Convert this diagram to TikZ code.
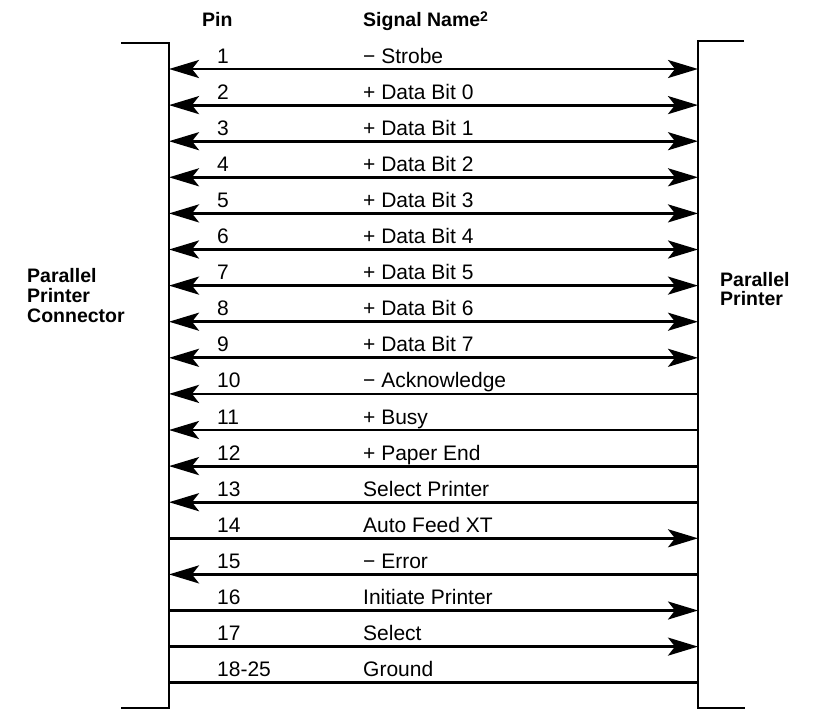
\documentclass[tikz,border=0pt]{standalone}
\usepackage{fontspec}
\setmainfont{Liberation Sans}
\usetikzlibrary{arrows.meta}
\tikzset{
  sig/.style={line width=2.8pt},
  brk/.style={line width=1.8pt},
  bigtip/.tip={Stealth[length=30pt,width=18pt,inset=7pt]},
  pintext/.style={anchor=base west,inner sep=0pt,font=\fontsize{21}{21}\selectfont},
  head/.style={anchor=base west,inner sep=0pt,font=\bfseries\fontsize{19.5}{19.5}\selectfont},
}
\begin{document}
\begin{tikzpicture}[x=1pt,y=-1pt]
\useasboundingbox (0,0) rectangle (822,710);
% brackets
\coordinate (LT) at (121,43);
\coordinate (LTc) at (169,43);
\coordinate (LBc) at (169,708);
\coordinate (LB) at (121,708);
\coordinate (RT) at (744,41);
\coordinate (RTc) at (698,41);
\coordinate (RBc) at (698,708);
\coordinate (RB) at (745,708);
\draw[brk] (LT) -- (LTc) -- (LBc) -- (LB);
\draw[brk] (RT) -- (RTc) -- (RBc) -- (RB);
% headers
\node[head] (hpin) at (202,26) {Pin};
\node[head] (hsig) at (363,26) {Signal Name\raisebox{5pt}{\fontsize{14}{14}\selectfont 2}};
% side labels
\node[head] (la) at (27,282) {Parallel};
\node[head] (lb) at (27,302) {Printer};
\node[head] (lc) at (27,322) {Connector};
\node[head] (ra) at (720,286) {Parallel};
\node[head] (rb) at (720,305) {Printer};
% rows
\foreach \i/\p/\s/\d in {
 1/1/{− Strobe}/b,
 2/2/{+ Data Bit 0}/b,
 3/3/{+ Data Bit 1}/b,
 4/4/{+ Data Bit 2}/b,
 5/5/{+ Data Bit 3}/b,
 6/6/{+ Data Bit 4}/b,
 7/7/{+ Data Bit 5}/b,
 8/8/{+ Data Bit 6}/b,
 9/9/{+ Data Bit 7}/b,
 10/10/{− Acknowledge}/l,
 11/11/{+ Busy}/l,
 12/12/{+ Paper End}/l,
 13/13/{Select Printer}/l,
 14/14/{Auto Feed XT}/r,
 15/15/{− Error}/l,
 16/16/{Initiate Printer}/r,
 17/17/{Select}/r,
 18/18-25/{Ground}/n}{
  \pgfmathsetmacro{\yy}{69+(\i-1)*36.1}
  \coordinate (l\i) at (169,\yy);
  \coordinate (r\i) at (698,\yy);
  \node[pintext] (pin\i) at (217,\yy-6) {\p};
  \node[pintext] (sig\i) at (363,\yy-6) {\s};
  \if\d b
    \draw[sig,{bigtip}-{bigtip}] (l\i) -- (r\i);
  \else\if\d l
    \draw[sig,{bigtip}-] (l\i) -- (r\i);
  \else\if\d r
    \draw[sig,-{bigtip}] (l\i) -- (r\i);
  \else
    \draw[sig] (l\i) -- (r\i);
  \fi\fi\fi
}
\end{tikzpicture}
\end{document}
